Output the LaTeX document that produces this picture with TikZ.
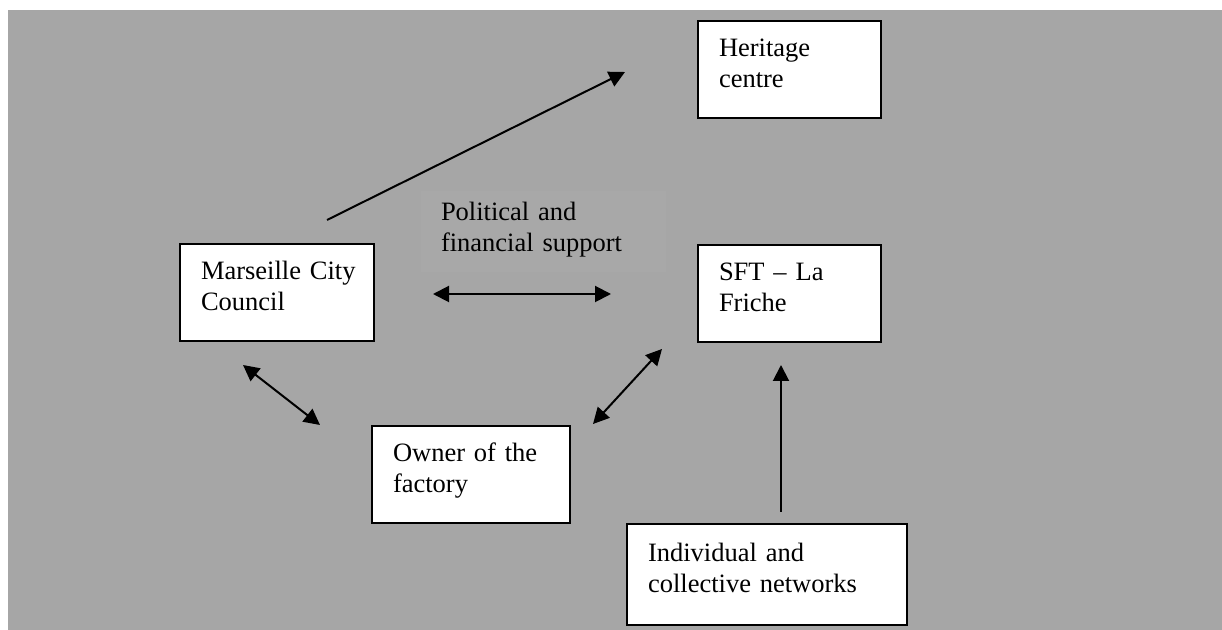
\documentclass[tikz,border=0pt]{standalone}
\usepackage{fontspec}
\setmainfont{Liberation Serif}
\usetikzlibrary{arrows.meta}

\begin{document}
\begin{tikzpicture}[x=0.5pt, y=-0.5pt, >={Triangle[length=8pt,width=8pt]}, line width=1pt]
        % -------- shared settings --------
        \definecolor{bggray}{RGB}{166,166,166}
        \definecolor{labelgray}{RGB}{168,168,168}
        \tikzset{
          actor/.style={draw=black, fill=white, anchor=north west, align=left,
            inner xsep=10.5pt, inner ysep=9pt, text height=9pt, text depth=21.5pt,
            minimum height=48.5pt, font=\fontsize{13.25}{15.5}\selectfont},
          link/.style={->, line width=1pt},
          twoway/.style={<->, line width=1pt}
        }

        % ======== background ========
        \useasboundingbox (0,0) rectangle (1222,630);
        \fill[bggray] (8,10) rectangle (1222,630);

        % label of the middle arrow
        \node[anchor=north west, align=left, fill=labelgray, text width=102.5pt,
              inner xsep=10pt, inner ysep=6pt, text height=9pt, text depth=19.5pt,
              font=\fontsize{13.25}{15.5}\selectfont] (support) at (420,190)
          {Political and\\financial support};

        % ======== actors ========
        \node[actor, text width=70.5pt] (heritage) at (697,20) {Heritage\\centre};
        \node[actor, text width=76pt]   (council)  at (179,243) {Marseille~City\\Council};
        \node[actor, text width=70.5pt] (friche)   at (697,244) {SFT – La\\Friche};
        \node[actor, text width=78pt]   (owner)    at (371,425) {Owner of the\\factory};
        \node[actor, text width=119pt, minimum height=50.5pt] (networks) at (626,523)
          {Individual and\\collective networks};

        % ======== arrow ends ========
        \coordinate (her-a) at (327,220);
        \coordinate (her-b) at (625,72);
        \coordinate (pol-a) at (433,294);
        \coordinate (pol-b) at (611,294);
        \coordinate (own-a) at (243,365);
        \coordinate (own-b) at (320,425);
        \coordinate (fri-a) at (593,424);
        \coordinate (fri-b) at (662,349);
        \coordinate (net-a) at (781,512);
        \coordinate (net-b) at (781,365);

        % council -> heritage centre
        \draw[link] (her-a) -- (her-b);
        % council <-> SFT (political and financial support)
        \draw[twoway] (pol-a) -- (pol-b);
        % council <-> owner
        \draw[twoway] (own-a) -- (own-b);
        % owner <-> SFT
        \draw[twoway] (fri-a) -- (fri-b);
        % networks -> SFT
        \draw[link] (net-a) -- (net-b);

\end{tikzpicture}
\end{document}
